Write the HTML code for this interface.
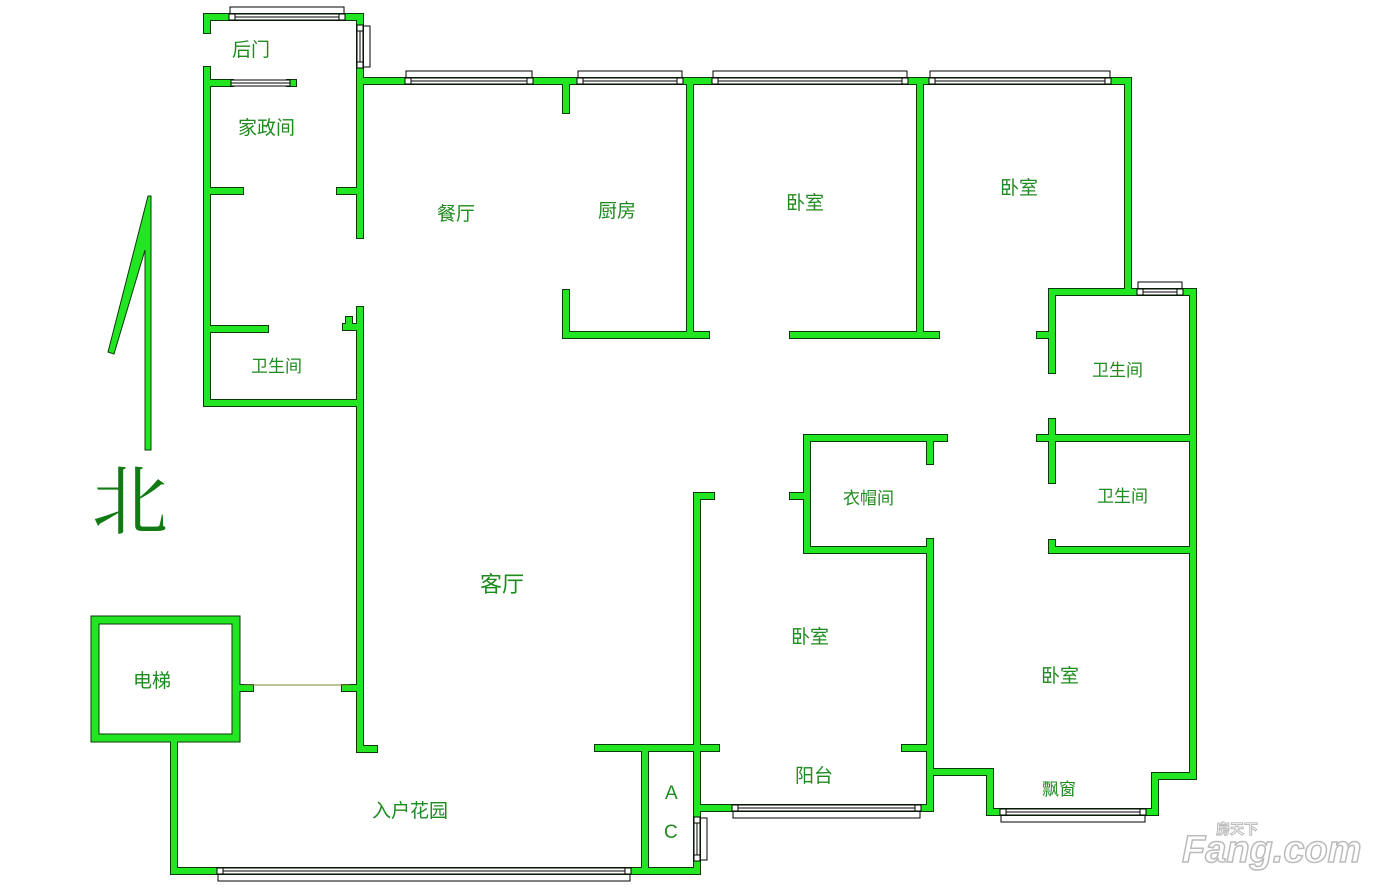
<!DOCTYPE html>
<html><head><meta charset="utf-8"><style>
body{margin:0;background:#fff;width:1380px;height:891px;overflow:hidden}
svg{display:block}
text{font-family:"Liberation Sans","Noto Sans CJK SC",sans-serif;fill:#1f8a1f;font-size:19px}
</style></head><body>
<svg id="s" width="1380" height="891" viewBox="0 0 1380 891" xmlns="http://www.w3.org/2000/svg">
<g id="sills" fill="none" stroke="#000" stroke-width="1.2"></g>
<g id="wb" stroke="#0a3a0a" stroke-width="8" stroke-linecap="square" fill="none"></g>
<g id="wg" stroke="#22e622" stroke-width="6" stroke-linecap="square" fill="none"></g>
<g id="win"></g>
<polygon points="108,352 148,196 151,196 151,450 145,450 145,250 114,354" fill="#22e622" stroke="#0a3a0a" stroke-width="1"/>
<line x1="244" y1="685" x2="350" y2="685" stroke="#7a8a30" stroke-width="1"/>
<text x="92" y="528" style="font-size:76px;fill:#127a12;font-family:'Noto Serif CJK SC',serif">北</text>
<text x="232" y="56">后门</text>
<text x="238" y="134">家政间</text>
<text x="251" y="372" style="font-size:17px">卫生间</text>
<text x="437" y="220">餐厅</text>
<text x="598" y="217">厨房</text>
<text x="786" y="209">卧室</text>
<text x="1000" y="194">卧室</text>
<text x="1092" y="376" style="font-size:17px">卫生间</text>
<text x="1097" y="502" style="font-size:17px">卫生间</text>
<text x="843" y="504" style="font-size:17px">衣帽间</text>
<text x="480" y="592" style="font-size:22px">客厅</text>
<text x="791" y="643">卧室</text>
<text x="1041" y="682">卧室</text>
<text x="133" y="687">电梯</text>
<text x="795" y="782">阳台</text>
<text x="1042" y="795" style="font-size:17px">飘窗</text>
<text x="372" y="817">入户花园</text>
<text x="665" y="799">A</text>
<text x="664" y="838">C</text>
<text x="1182" y="862" style="font-size:38px;font-weight:bold;font-style:italic;fill:#fff;stroke:#bbb;stroke-width:1.5">Fang.com</text>
<text x="1216" y="834" style="font-size:14px;font-weight:bold;fill:#fff;stroke:#bbb;stroke-width:1">房天下</text>
</svg>
<script>
const W=[
[207,17,360,17],[207,17,207,30],[207,70,207,403],[207,83,230,83],[290,83,293,83],[360,17,360,235],[360,310,360,749],[360,749,374,749],
[207,191,240,191],[340,191,360,191],[207,329,265,329],[346,327,360,327],[349,320,349,327],[207,403,360,403],
[360,81,1128,81],[566,81,566,110],[690,81,690,335],[920,81,920,335],[1128,81,1128,292],
[566,293,566,335],[566,335,706,335],[793,335,936,335],
[1052,292,1193,292],[1052,292,1052,370],[1040,335,1052,335],[1052,422,1052,480],[1040,438,1193,438],[1052,543,1052,550],[1052,550,1193,550],[1193,292,1193,776],
[1193,776,1155,776],[1155,776,1155,812],[1155,812,990,812],[990,812,990,772],[990,772,930,772],
[807,438,944,438],[930,438,930,461],[807,438,807,550],[793,496,807,496],[807,550,930,550],[930,542,930,808],
[697,496,711,496],[697,496,697,808],[697,808,930,808],[598,748,716,748],[905,748,930,748],
[645,748,645,871],[697,808,697,871],[174,871,697,871],[174,740,174,871],
[238,688,250,688],[345,688,360,688]
];
const ns="http://www.w3.org/2000/svg";
function ln(g,a){const l=document.createElementNS(ns,'line');l.setAttribute('x1',a[0]);l.setAttribute('y1',a[1]);l.setAttribute('x2',a[2]);l.setAttribute('y2',a[3]);g.appendChild(l);}
W.forEach(a=>{ln(document.getElementById('wb'),a);ln(document.getElementById('wg'),a);});
['wb','wg'].forEach((id,i)=>{const r=document.createElementNS(ns,'rect');r.setAttribute('x',95);r.setAttribute('y',620);r.setAttribute('width',141);r.setAttribute('height',118);r.setAttribute('stroke-width',i==0?9:7);document.getElementById(id).appendChild(r);});
const sill=document.getElementById('sills'),win=document.getElementById('win');
function rect(g,x,y,w,h,f){const r=document.createElementNS(ns,'rect');r.setAttribute('x',x);r.setAttribute('y',y);r.setAttribute('width',w);r.setAttribute('height',h);r.setAttribute('fill',f||'#fff');r.setAttribute('stroke','#000');r.setAttribute('stroke-width',1);g.appendChild(r);}
function hl(x1,x2,y){const l=document.createElementNS(ns,'line');l.setAttribute('x1',x1);l.setAttribute('x2',x2);l.setAttribute('y1',y);l.setAttribute('y2',y);l.setAttribute('stroke','#000');l.setAttribute('stroke-width',1);win.appendChild(l);}
function hw(x1,x2,y,s){if(s){const sy=s<0?y-10:y;rect(sill,x1-2,sy,x2-x1+4,10,'none');}rect(win,x1,y-3,x2-x1,6);hl(x1,x2,y);if(s){rect(win,x1-3,y-3,6,6);rect(win,x2-3,y-3,6,6);}}
function vw(y1,y2,x,s){const sx=s<0?x-10:x;rect(sill,sx,y1-2,10,y2-y1+4,'none');rect(win,x-3,y1,6,y2-y1);const l=document.createElementNS(ns,'line');l.setAttribute('x1',x);l.setAttribute('x2',x);l.setAttribute('y1',y1);l.setAttribute('y2',y2);l.setAttribute('stroke','#000');l.setAttribute('stroke-width',1);win.appendChild(l);rect(win,x-3,y1-3,6,6);rect(win,x-3,y2-3,6,6);}
hw(232,342,17,-1);hw(408,530,81,-1);hw(580,680,81,-1);hw(715,905,81,-1);hw(932,1108,81,-1);hw(1140,1180,292,-1);
hw(735,918,808,1);hw(1003,1143,812,1);hw(220,628,871,1);hw(231,290,83,0);
vw(28,65,360,1);vw(820,858,697,1);
</script>
</body></html>
